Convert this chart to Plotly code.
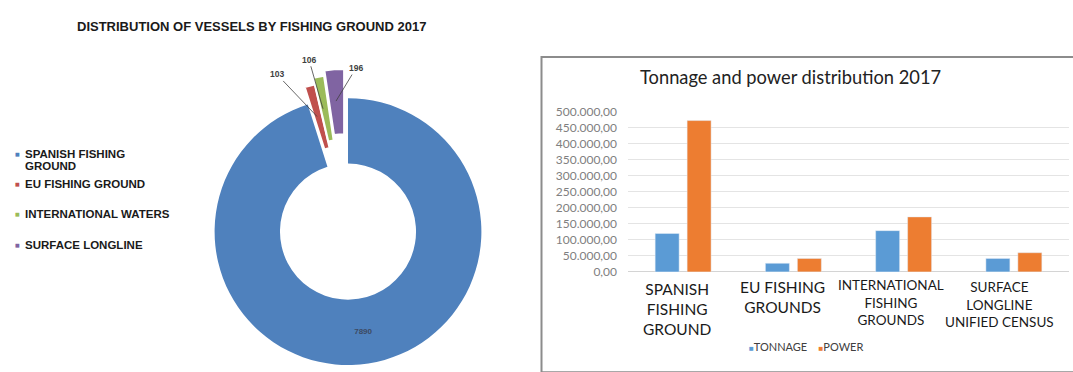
import plotly.graph_objects as go

W, H = 1073, 372

# ---------------- data ----------------
pie_labels = ["SPANISH FISHING GROUND", "EU FISHING GROUND", "INTERNATIONAL WATERS", "SURFACE LONGLINE"]
pie_values = [7890, 103, 106, 196]
pie_colors = ["#4f81bd", "#c0504d", "#9bbb59", "#8064a2"]
legend_lines = [["SPANISH FISHING", "GROUND"], ["EU FISHING GROUND"], ["INTERNATIONAL WATERS"], ["SURFACE LONGLINE"]]

bar_categories = ["SPANISH FISHING GROUND", "EU FISHING GROUNDS",
                  "INTERNATIONAL FISHING GROUNDS", "SURFACE LONGLINE UNIFIED CENSUS"]
cat_labels = ["SPANISH<br>FISHING<br>GROUND", "EU FISHING<br>GROUNDS",
              "INTERNATIONAL<br>FISHING<br>GROUNDS", "SURFACE<br>LONGLINE<br>UNIFIED CENSUS"]
tonnage = [120000, 27000, 129000, 42000]
power = [473000, 42000, 172000, 60000]
y_ticks = [0, 50000, 100000, 150000, 200000, 250000, 300000, 350000, 400000, 450000, 500000]


# ---------------- helpers (layout positions in pixels) ----------------
def fx(px):
    return px / W


def fy(py):
    return 1 - py / H


def dom(cx, cy, half):
    return dict(x=[fx(cx - half), fx(cx + half)], y=[fy(cy + half), fy(cy - half)])


TRANSP = "rgba(0,0,0,0)"
R = 139
HOLE = 0.51
pulls = [0, 0, 0.05, 0.09]

fig = go.Figure()

# main donut (large slice)
fig.add_trace(go.Pie(
    values=pie_values, labels=pie_labels, sort=False, direction="clockwise", rotation=0,
    hole=HOLE, domain=dom(348, 233, R),
    marker=dict(colors=[pie_colors[0]] + [TRANSP] * 3, line=dict(width=0)),
    text=[str(pie_values[0]), "", "", ""], textinfo="text", textposition="inside",
    insidetextorientation="horizontal",
    textfont=dict(family="Liberation Sans", size=8, color="#3d4a63", weight="bold"),
    showlegend=False, hoverinfo="label+value",
))

# exploded small slices
fig.add_trace(go.Pie(
    values=pie_values, labels=pie_labels, sort=False, direction="clockwise", rotation=0,
    hole=HOLE, pull=pulls, domain=dom(345, 215, R * (1 + max(pulls))),
    marker=dict(colors=[TRANSP] + pie_colors[1:],
                line=dict(width=2, color=[TRANSP, "white", "white", "white"])),
    textinfo="none", showlegend=False, hoverinfo="label+value",
))

# bars
fig.add_trace(go.Bar(x=bar_categories, y=tonnage, name="TONNAGE", marker_color="#5b9bd5",
                     showlegend=False, xaxis="x", yaxis="y"))
fig.add_trace(go.Bar(x=bar_categories, y=power, name="POWER", marker_color="#ed7d31",
                     showlegend=False, xaxis="x", yaxis="y"))

annotations = []

# pie title
annotations.append(dict(text="DISTRIBUTION OF VESSELS BY FISHING GROUND 2017", x=fx(251), y=fy(19),
                        xref="paper", yref="paper", showarrow=False, xanchor="center", yanchor="middle",
                        font=dict(family="Liberation Sans", size=13, color="#1a1a1a", weight="bold")))

# pie legend (left)
leg_y = [152, 183, 215, 247]
for i, lines in enumerate(legend_lines):
    annotations.append(dict(text="■", x=fx(17), y=fy(leg_y[i]), xref="paper", yref="paper",
                            showarrow=False, xanchor="center", yanchor="middle",
                            font=dict(family="DejaVu Sans", size=5, color=pie_colors[i])))
    for j, ln in enumerate(lines):
        annotations.append(dict(text=ln, x=fx(23), y=fy(leg_y[i] + 13 * j), xref="paper", yref="paper",
                                showarrow=False, xanchor="left", yanchor="middle",
                                font=dict(family="Liberation Sans", size=11.5, color="#1a1a1a",
                                          weight="bold")))

# pie value labels with leader lines
lbl_tips = [None, (317, 113), (323, 105), (336, 97)]
lbl_text = [None, (277, 71), (309, 56), (356, 64)]
for i in range(1, 4):
    tx, ty = lbl_tips[i]
    lx, ly = lbl_text[i]
    annotations.append(dict(text=str(pie_values[i]), x=fx(tx), y=fy(ty), xref="paper", yref="paper",
                            showarrow=True, arrowhead=0, arrowwidth=0.8, arrowcolor="#404040",
                            ax=lx - tx, ay=ly - ty,
                            font=dict(family="Liberation Sans", size=8.5, color="#404040", weight="bold")))

# bar chart title
annotations.append(dict(text="Tonnage and power distribution 2017", x=fx(790), y=fy(72),
                        xref="paper", yref="paper", showarrow=False, xanchor="center", yanchor="middle",
                        font=dict(family="Lato", size=18.3, color="#222222")))

# category labels
cat_sizes = [15.5, 15.5, 13.5, 13.5]
cat_shift = [-6, -11, -13, -14]
cat_top = [281, 279, 278, 280]
for i, c in enumerate(bar_categories):
    annotations.append(dict(text=cat_labels[i], x=c, xref="x", y=fy(cat_top[i]), yref="paper",
                            showarrow=False, xanchor="center", yanchor="top", xshift=cat_shift[i],
                            align="center", font=dict(family="Lato", size=cat_sizes[i], color="#1a1a1a")))

# bar legend
annotations.append(dict(
    text='<span style="color:#5b9bd5;font-size:8px">■</span>TONNAGE    '
         '<span style="color:#ed7d31;font-size:8px">■</span>POWER',
    x=fx(806), y=fy(353), xref="paper", yref="paper", showarrow=False,
    xanchor="center", yanchor="middle", font=dict(family="Lato", size=11, color="#404040")))

fig.update_layout(
    width=W, height=H, margin=dict(l=0, r=0, t=0, b=0, pad=0),
    paper_bgcolor="white", plot_bgcolor="white",
    separators=",.",
    barmode="group", bargap=0.42, bargroupgap=0.25,
    xaxis=dict(domain=[fx(628), fx(1069)], anchor="y", showticklabels=False, showgrid=False,
               zeroline=False, showline=False, ticks=""),
    yaxis=dict(domain=[fy(275), fy(108.3)], anchor="x", range=[0, 500000], tickvals=y_ticks,
               tickformat=",.2f", showgrid=True, gridcolor="#e4e4e4", gridwidth=1,
               zeroline=True, zerolinecolor="#d4d4d4", zerolinewidth=1, showline=False,
               ticks="", ticklabelstandoff=10,
               tickfont=dict(family="Lato", size=12, color="#808080")),
    annotations=annotations,
    shapes=[dict(type="rect", xref="paper", yref="paper", x0=fx(541.5), x1=1.02, y0=-0.02, y1=fy(51),
                 line=dict(color="#8c8c8c", width=2), fillcolor="rgba(0,0,0,0)", layer="below")],
    showlegend=False,
)

fig.write_html("out.html")
